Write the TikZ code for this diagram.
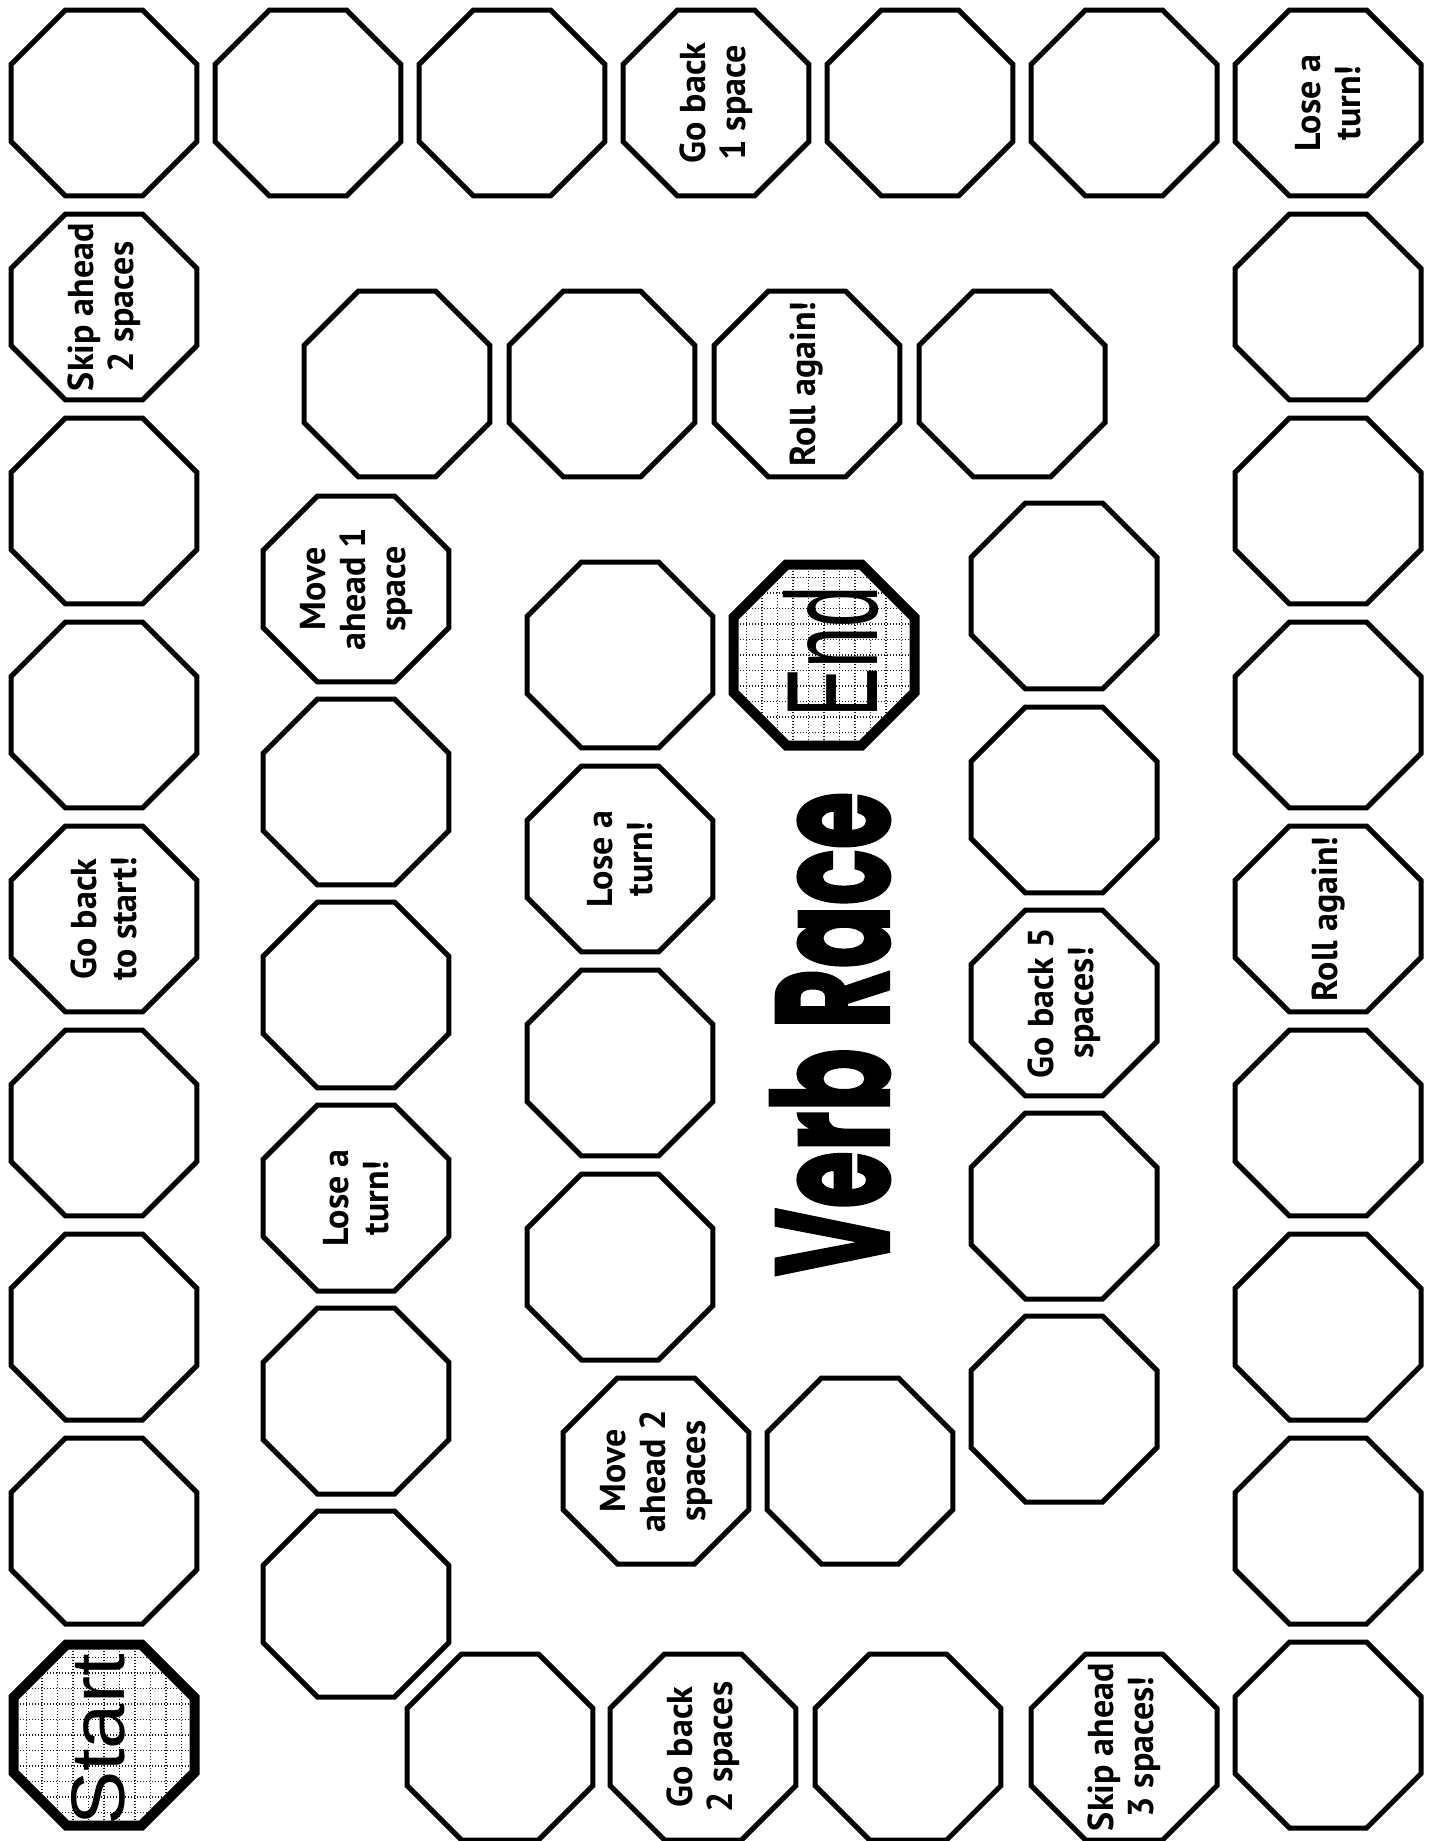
\documentclass[tikz,border=0pt]{standalone}
\usepackage{fontspec}
\newfontfamily\boardfont{PT Sans}[BoldFont={PT Sans Bold}]
\newfontfamily\bigfont{Liberation Sans}
\newfontfamily\titlefont{Poppins}[BoldFeatures={FakeBold=2}]
\usetikzlibrary{shapes.geometric}
\begin{document}
\begin{tikzpicture}[x=0.5pt,y=-0.5pt,
  oct/.style={draw, line width=2.5pt, fill=white, regular polygon, regular polygon sides=8,
    minimum size=100.65pt, inner sep=0pt, outer sep=0pt},
  lbl/.style={rotate=90, align=center, inner sep=0pt,
    font=\boardfont\bfseries\fontsize{18pt}{20pt}\selectfont},
  gridline/.style={line width=0.7pt, dash pattern=on 0.7pt off 0.8pt, black!90},
  gridfill/.style={path picture={
    \foreach \k in {-7,...,7}{
      \draw[gridline] (path picture bounding box.center) ++(\k*15.5,-120) -- ++(0,240);
      \draw[gridline] (path picture bounding box.center) ++(-120,\k*15.5) -- ++(240,0);
    }}},
  startend/.style={oct, line width=5pt, minimum size=97.96pt, gridfill},
  bigtext/.style={rotate=90, inner sep=0pt},
  titlestyle/.style={rotate=90, inner sep=0pt, font=\titlefont\bfseries\fontsize{80pt}{80pt}\selectfont}
]
\useasboundingbox (0,0) rectangle (1434,1841);
\fill[white] (0,0) rectangle (1434,1841);

% outer top row
\node[oct] (o1) at (104,103) {};
\node[oct] (o2) at (308,103) {};
\node[oct] (o3) at (512,103) {};
\node[oct] (o4) at (716,103) {};
\node[lbl] (o4t) at (o4) {Go back\\1 space};
\node[oct] (o5) at (920,103) {};
\node[oct] (o6) at (1124,103) {};
\node[oct] (o7) at (1328,103) {};
\node[lbl] (o7t) at (o7) {Lose a\\turn!};
% right column
\node[oct] (r1) at (1328,307) {};
\node[oct] (r2) at (1328,511) {};
\node[oct] (r3) at (1328,715) {};
\node[oct] (r4) at (1328,919) {};
\node[lbl] (r4t) at (r4) {Roll again!};
\node[oct] (r5) at (1328,1123) {};
\node[oct] (r6) at (1328,1327) {};
\node[oct] (r7) at (1328,1531) {};
\node[oct] (r8) at (1328,1735) {};
% bottom row
\node[oct] (b1) at (1124,1747) {};
\node[lbl] (b1t) at (b1) {Skip ahead\\3 spaces!};
\node[oct] (b2) at (908,1747) {};
\node[oct] (b3) at (703,1747) {};
\node[lbl] (b3t) at (b3) {Go back\\2 spaces};
\node[oct] (b4) at (500,1747) {};
% left column
\node[oct] (l1) at (104,307) {};
\node[lbl] (l1t) at (l1) {Skip ahead\\2 spaces};
\node[oct] (l2) at (104,511) {};
\node[oct] (l3) at (104,715) {};
\node[oct] (l4) at (104,919) {};
\node[lbl] (l4t) at (l4) {Go back\\to start!};
\node[oct] (l5) at (104,1123) {};
\node[oct] (l6) at (104,1327) {};
\node[oct] (l7) at (104,1531) {};
\node[startend] (start) at (104,1735) {};
\node[bigtext, font=\bigfont\fontsize{38pt}{38pt}\selectfont] (startt) at (98,1740) {\scalebox{1.07}[1]{Start}};

% inner path
\node[oct] (i1) at (356,1604) {};
\node[oct] (i2) at (356,1401) {};
\node[oct] (i3) at (356,1198) {};
\node[lbl] (i3t) at (i3) {Lose a\\turn!};
\node[oct] (i4) at (356,995) {};
\node[oct] (i5) at (356,792) {};
\node[oct] (i6) at (356,589) {};
\node[lbl] (i6t) at (i6) {Move\\ahead 1\\space};
\node[oct] (t1) at (397,384) {};
\node[oct] (t2) at (602,384) {};
\node[oct] (t3) at (807,384) {};
\node[lbl] (t3t) at (t3) {Roll again!};
\node[oct] (t4) at (1012,384) {};
\node[oct] (c1) at (1064,596) {};
\node[oct] (c2) at (1064,800) {};
\node[oct] (c3) at (1064,1003) {};
\node[lbl] (c3t) at (c3) {Go back 5\\spaces!};
\node[oct] (c4) at (1064,1206) {};
\node[oct] (c5) at (1064,1409) {};
\node[oct] (m2) at (860,1471) {};
\node[oct] (m1) at (656,1471) {};
\node[lbl] (m1t) at (m1) {Move\\ahead 2\\spaces};
\node[oct] (k4) at (620,1267) {};
\node[oct] (k3) at (620,1063) {};
\node[oct] (k2) at (620,859) {};
\node[lbl] (k2t) at (k2) {Lose a\\turn!};
\node[oct] (k1) at (620,655) {};
\node[startend] (end) at (824,655) {};
\node[bigtext, font=\bigfont\fontsize{65pt}{65pt}\selectfont] (endt) at (831,652) {\scalebox{0.57}[1]{End}};

% title
\node[titlestyle] (title) at (830,1034) {\scalebox{0.58}[1]{Verb Race}};
\end{tikzpicture}
\end{document}
